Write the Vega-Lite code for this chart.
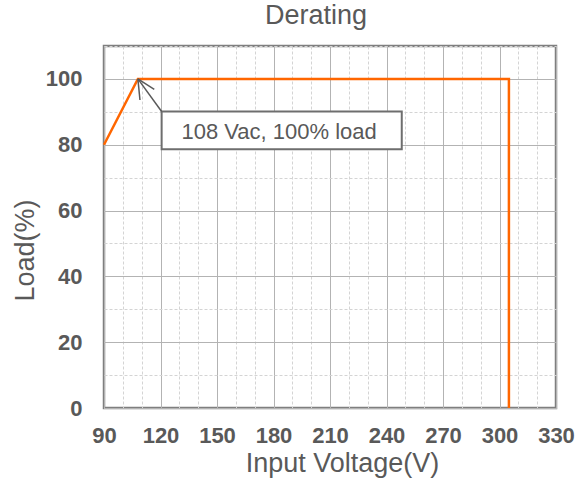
{
  "$schema": "https://vega.github.io/schema/vega-lite/v6.json",
  "width": 452,
  "height": 362,
  "autosize": "none",
  "padding": {"left": 104, "top": 46, "right": 20, "bottom": 76},
  "title": {"text": "Derating", "font": "Liberation Sans", "fontSize": 27, "fontWeight": "normal", "color": "#595959", "offset": 16, "dx": -14},
  "config": {
    "view": {"stroke": "#7f7f7f", "strokeWidth": 2.5},
    "font": "Liberation Sans"
  },
  "datasets": {
    "curve": [
      {"voltage": 90, "load": 80, "step": 1},
      {"voltage": 108, "load": 100, "step": 2},
      {"voltage": 305, "load": 100, "step": 3},
      {"voltage": 305, "load": 0, "step": 4}
    ],
    "box": [{"x": 120.6, "x2": 248.1, "y": 90.1, "y2": 78.6}],
    "label": [{"x": 183.0, "y": 83.8, "text": "108 Vac, 100% load"}],
    "arrow": [
      {"x": 108, "y": 100, "x2": 120.6, "y2": 90.1},
      {"x": 108, "y": 100, "x2": 116.7, "y2": 96.8},
      {"x": 108, "y": 100, "x2": 109.1, "y2": 93.6}
    ]
  },
  "resolve": {"axis": {"x": "independent", "y": "independent"}},
  "layer": [
    {
      "data": {"name": "curve"},
      "mark": {"type": "line", "opacity": 0},
      "encoding": {
        "x": {"field": "voltage", "type": "quantitative", "scale": {"domain": [90, 330], "nice": false},
          "axis": {"orient": "bottom", "values": [90,100,110,120,130,140,150,160,170,180,190,200,210,220,230,240,250,260,270,280,290,300,310,320,330], "grid": true, "gridColor": "#d4d4d4", "gridDash": [3, 2], "gridWidth": 1, "labels": false, "ticks": false, "domain": false, "title": null}},
        "y": {"field": "load", "type": "quantitative", "scale": {"domain": [0, 110], "nice": false},
          "axis": {"orient": "left", "values": [0,10,20,30,40,50,60,70,80,90,100,110], "grid": true, "gridColor": "#d4d4d4", "gridDash": [3, 2], "gridWidth": 1, "labels": false, "ticks": false, "domain": false, "title": null}}
      }
    },
    {
      "data": {"name": "curve"},
      "mark": {"type": "line", "color": "#ff6600", "strokeWidth": 2.5},
      "encoding": {
        "x": {"field": "voltage", "type": "quantitative", "scale": {"domain": [90, 330], "nice": false},
          "axis": {"orient": "bottom", "values": [90,120,150,180,210,240,270,300,330], "grid": true, "gridColor": "#b3b3b3", "gridWidth": 1, "ticks": false, "domain": false,
            "labelFlush": false, "labelOverlap": false, "labelBound": false,
            "labelFont": "Liberation Sans", "labelFontSize": 22, "labelFontWeight": "bold", "labelColor": "#595959", "labelPadding": 17,
            "title": "Input Voltage(V)", "titleFont": "Liberation Sans", "titleFontSize": 27, "titleFontWeight": "normal", "titleColor": "#595959", "titlePadding": 4, "titleX": 238}},
        "y": {"field": "load", "type": "quantitative", "scale": {"domain": [0, 110], "nice": false},
          "axis": {"orient": "left", "values": [0,20,40,60,80,100], "grid": true, "gridColor": "#b3b3b3", "gridWidth": 1, "ticks": false, "domain": false,
            "labelFlush": false, "labelOverlap": false, "labelBound": false,
            "labelFont": "Liberation Sans", "labelFontSize": 22, "labelFontWeight": "bold", "labelColor": "#595959", "labelPadding": 22,
            "title": "Load(%)", "titleFont": "Liberation Sans", "titleFontSize": 27, "titleFontWeight": "normal", "titleColor": "#595959", "titleAngle": -90, "titleX": -79, "titleY": 204, "titleBaseline": "middle", "titleAlign": "center"}},
        "order": {"field": "step", "type": "quantitative"}
      }
    },
    {
      "data": {"name": "box"},
      "mark": {"type": "rect", "fill": "white", "stroke": "#6e6e6e", "strokeWidth": 2},
      "encoding": {
        "x": {"field": "x", "type": "quantitative", "axis": null},
        "x2": {"field": "x2"},
        "y": {"field": "y", "type": "quantitative", "axis": null},
        "y2": {"field": "y2"}
      }
    },
    {
      "data": {"name": "label"},
      "mark": {"type": "text", "font": "Liberation Sans", "fontSize": 22, "color": "#595959", "baseline": "middle", "align": "center"},
      "encoding": {
        "x": {"field": "x", "type": "quantitative", "axis": null},
        "y": {"field": "y", "type": "quantitative", "axis": null},
        "text": {"field": "text"}
      }
    },
    {
      "data": {"name": "arrow"},
      "mark": {"type": "rule", "color": "#595959", "strokeWidth": 1.5},
      "encoding": {
        "x": {"field": "x", "type": "quantitative", "axis": null},
        "x2": {"field": "x2"},
        "y": {"field": "y", "type": "quantitative", "axis": null},
        "y2": {"field": "y2"}
      }
    }
  ]
}
